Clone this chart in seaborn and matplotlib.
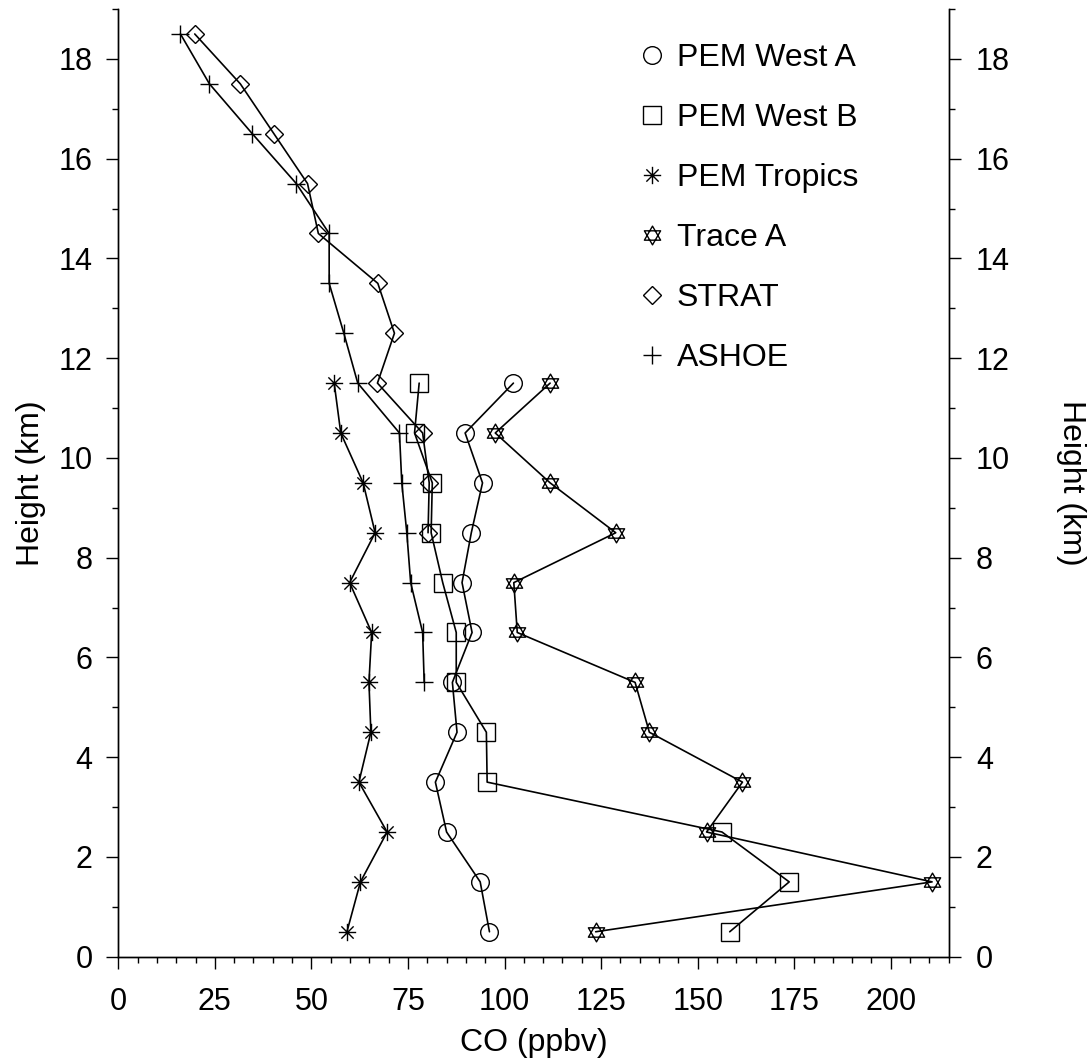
import numpy as np
import matplotlib
matplotlib.use("Agg")
import matplotlib.pyplot as plt
from matplotlib.path import Path
from matplotlib.lines import Line2D
from matplotlib.ticker import MultipleLocator
import seaborn as sns
import pandas as pd

# heights of the layer midpoints (km)
heights_low = [0.5, 1.5, 2.5, 3.5, 4.5, 5.5, 6.5, 7.5, 8.5, 9.5, 10.5, 11.5]
heights_strat = [8.5, 9.5, 10.5, 11.5, 12.5, 13.5, 14.5, 15.5, 16.5, 17.5, 18.5]
heights_ashoe = [5.5, 6.5, 7.5, 8.5, 9.5, 10.5, 11.5, 12.5, 13.5, 14.5, 15.5, 16.5, 17.5, 18.5]

# CO (ppbv)
pem_west_a = [96.1, 93.7, 85.0, 82.1, 87.7, 86.5, 91.6, 89.0, 91.4, 94.3, 89.8, 102.3]
pem_west_b = [158.3, 173.7, 156.3, 95.5, 95.3, 87.5, 87.5, 84.0, 81.0, 81.3, 76.7, 77.9]
pem_tropics = [59.2, 62.7, 69.6, 62.3, 65.4, 64.9, 65.6, 59.9, 66.5, 63.4, 57.6, 55.9]
trace_a = [123.6, 210.7, 152.3, 161.6, 137.5, 133.8, 103.3, 102.4, 128.8, 111.8, 97.6, 111.8]
strat = [80.2, 80.5, 78.8, 67.1, 71.5, 67.2, 51.8, 49.0, 40.3, 31.6, 19.8]
ashoe = [79.2, 78.8, 75.7, 74.7, 73.4, 72.8, 62.0, 58.4, 54.6, 54.6, 46.1, 34.7, 23.6, 16.1]

# custom markers: star of David and 8-spoke asterisk
hexagram = Path(
    [(0, 1), (-0.866, -0.5), (0.866, -0.5), (0, 1),
     (0, -1), (0.866, 0.5), (-0.866, 0.5), (0, -1)],
    [Path.MOVETO, Path.LINETO, Path.LINETO, Path.CLOSEPOLY,
     Path.MOVETO, Path.LINETO, Path.LINETO, Path.CLOSEPOLY])
d = 0.7071
asterisk = Path(
    [(-1, 0), (1, 0), (0, -1), (0, 1), (-d, -d), (d, d), (-d, d), (d, -d)],
    [Path.MOVETO, Path.LINETO] * 4)

series = [
    ("PEM West A", pem_west_a, heights_low, "o", 12.7),
    ("PEM West B", pem_west_b, heights_low, "s", 12.7),
    ("PEM Tropics", pem_tropics, heights_low, asterisk, 12.5),
    ("Trace A", trace_a, heights_low, hexagram, 13.5),
    ("STRAT", strat, heights_strat, "D", 9.0),
    ("ASHOE", ashoe, heights_ashoe, "+", 12.5),
]

sns.set_theme(style="ticks")
plt.rcParams["font.family"] = ["Liberation Sans", "DejaVu Sans"]
plt.rcParams["text.color"] = "black"
plt.rcParams["axes.labelcolor"] = "black"

fig = plt.figure(figsize=(10.92, 10.63), dpi=100)
ax = fig.add_axes([0.1083, 0.1000, 0.7605, 0.8915])

handles = []
for name, vals, hts, mk, ms in series:
    df = pd.DataFrame({"co": vals, "height": hts})
    sns.lineplot(data=df, x="co", y="height", sort=False, estimator=None,
                 color="black", linewidth=1.2, marker=mk, markersize=ms,
                 markerfacecolor="none", markeredgecolor="black",
                 markeredgewidth=1.0, ax=ax)
    handles.append(Line2D([], [], linestyle="none", marker=mk, markersize=ms,
                          markerfacecolor="none", markeredgecolor="black",
                          markeredgewidth=1.0, label=name))

ax.set_xlim(0, 215)
ax.set_ylim(0, 19)
ax.xaxis.set_major_locator(MultipleLocator(25))
ax.xaxis.set_minor_locator(MultipleLocator(5))
ax.yaxis.set_major_locator(MultipleLocator(2))
ax.yaxis.set_minor_locator(MultipleLocator(1))

ax2 = ax.twinx()
ax2.set_ylim(0, 19)
ax2.yaxis.set_major_locator(MultipleLocator(2))
ax2.yaxis.set_minor_locator(MultipleLocator(1))

for a in (ax, ax2):
    a.spines["top"].set_visible(False)
    for s in a.spines.values():
        s.set_linewidth(1.0)
        s.set_color("black")
    a.tick_params(which="major", length=8.6, width=1.0, labelsize=22,
                  color="black", labelcolor="black", direction="out")
    a.tick_params(which="minor", length=4.3, width=1.0, color="black",
                  direction="out")
ax.tick_params(axis="y", pad=10)
ax.tick_params(axis="x", pad=13)
ax2.tick_params(axis="y", pad=11)
ax.grid(False)
ax2.grid(False)

ax.set_xlabel("CO (ppbv)", fontsize=23, labelpad=8)
ax.set_ylabel("Height (km)", fontsize=23, labelpad=9)
ax2.set_ylabel("Height (km)", fontsize=23, rotation=270, va="bottom", labelpad=33)

ax.legend(handles=handles, loc="upper left", bbox_to_anchor=(0.6234, 0.9642),
          frameon=False, borderpad=0, borderaxespad=0, handlelength=1.0,
          handletextpad=0.28, labelspacing=0.94, fontsize=23)

fig.savefig("out.png", dpi=100, facecolor="white")
